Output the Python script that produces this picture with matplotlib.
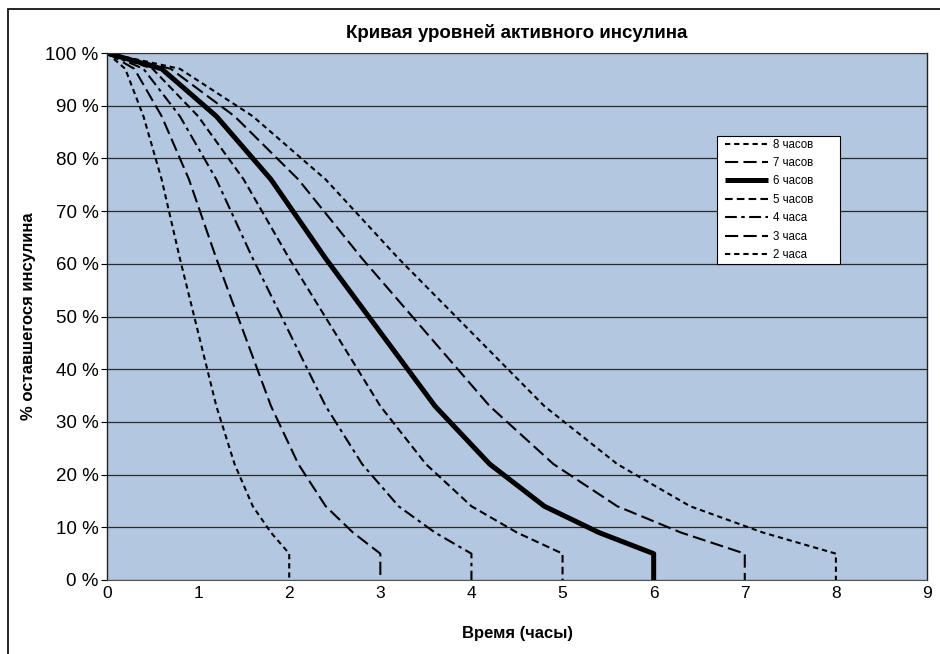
import matplotlib
matplotlib.use('Agg')
import matplotlib.pyplot as plt
from matplotlib.patches import Rectangle

plt.rcParams['font.family'] = ['Liberation Sans', 'DejaVu Sans']
plt.rcParams['lines.scale_dashes'] = False

# remaining insulin, % (same points for every duration)
pct = [100, 97, 88, 76, 61, 47, 33, 22, 14, 9, 5, 0]

# time points (hours) for each curve
t_2h = [0, 0.2, 0.4, 0.6, 0.8, 1.0, 1.2, 1.4, 1.6, 1.8, 2.0, 2.0]
t_3h = [0, 0.3, 0.6, 0.9, 1.2, 1.5, 1.8, 2.1, 2.4, 2.7, 3.0, 3.0]
t_4h = [0, 0.4, 0.8, 1.2, 1.6, 2.0, 2.4, 2.8, 3.2, 3.6, 4.0, 4.0]
t_5h = [0, 0.5, 1.0, 1.5, 2.0, 2.5, 3.0, 3.5, 4.0, 4.5, 5.0, 5.0]
t_6h = [0, 0.6, 1.2, 1.8, 2.4, 3.0, 3.6, 4.2, 4.8, 5.4, 6.0, 6.0]
t_7h = [0, 0.7, 1.4, 2.1, 2.8, 3.5, 4.2, 4.9, 5.6, 6.3, 7.0, 7.0]
t_8h = [0, 0.8, 1.6, 2.4, 3.2, 4.0, 4.8, 5.6, 6.4, 7.2, 8.0, 8.0]

labels = ['8 часов', '7 часов', '6 часов', '5 часов', '4 часа', '3 часа', '2 часа']

fig = plt.figure(figsize=(9.4, 6.54), dpi=100)
ax = fig.add_axes([107/940, 1 - 580/654, 820/940, 527/654])
ax.set_facecolor('#b3c7e0')

ax.plot(t_8h, pct, color='black', lw=1.5, dashes=(3.8, 2.8), label=labels[0])
ax.plot(t_7h, pct, color='black', lw=1.5, dashes=(9.5, 3.8), label=labels[1])
ax.plot(t_6h, pct, color='black', lw=3.6, solid_capstyle='butt', label=labels[2])
ax.plot(t_5h, pct, color='black', lw=1.5, dashes=(5.5, 3), label=labels[3])
ax.plot(t_4h, pct, color='black', lw=1.5, dashes=(8.5, 3.2, 2.5, 3.2), label=labels[4])
ax.plot(t_3h, pct, color='black', lw=1.5, dashes=(9.5, 3.8), label=labels[5])
ax.plot(t_2h, pct, color='black', lw=1.5, dashes=(3.8, 2.8), label=labels[6])

ax.set_xlim(0, 9)
ax.set_ylim(0, 100)
ax.set_xticks(range(0, 10))
ax.set_yticks(range(0, 101, 10))
ax.set_yticklabels([f'{v} %' for v in range(0, 101, 10)])
ax.tick_params(axis='y', length=4, width=0.8, pad=2, labelsize=13.5)
ax.tick_params(axis='x', length=0, pad=4, labelsize=12.5)
ax.grid(axis='y', color='#2a2a2a', lw=0.9)
ax.set_axisbelow(True)
for s in ['left', 'right']:
    ax.spines[s].set_color('#222222')
    ax.spines[s].set_linewidth(1.0)
ax.spines['bottom'].set_color('#555555')
ax.spines['top'].set_color('#333333')

ax.set_title('Кривая уровней активного инсулина', fontsize=13.5, fontweight='bold', pad=11)
ax.set_xlabel('Время (часы)', fontsize=12, fontweight='bold', labelpad=18)
ax.set_ylabel('% оставшегося инсулина', fontsize=12, fontweight='bold', labelpad=7)

# legend box (Excel style, wider than its content)
ax.add_patch(Rectangle((0.7439, 0.5996), 0.15, 0.2429, transform=ax.transAxes,
                       facecolor='white', edgecolor='black', lw=0.8, zorder=4.9))
leg = ax.legend(loc='upper left', bbox_to_anchor=(0.7439, 0.853), fontsize=8.3,
                frameon=False, handlelength=3.7, labelspacing=0.56, borderpad=0.7,
                borderaxespad=0, handletextpad=0.5)
leg.set_zorder(5)

# outer chart border
fig.patches.append(Rectangle((8/940, -0.1), 1.2, 1.1 - 9/654, transform=fig.transFigure,
                             fill=False, edgecolor='black', lw=1.2))

fig.savefig('out.png', dpi=100)
